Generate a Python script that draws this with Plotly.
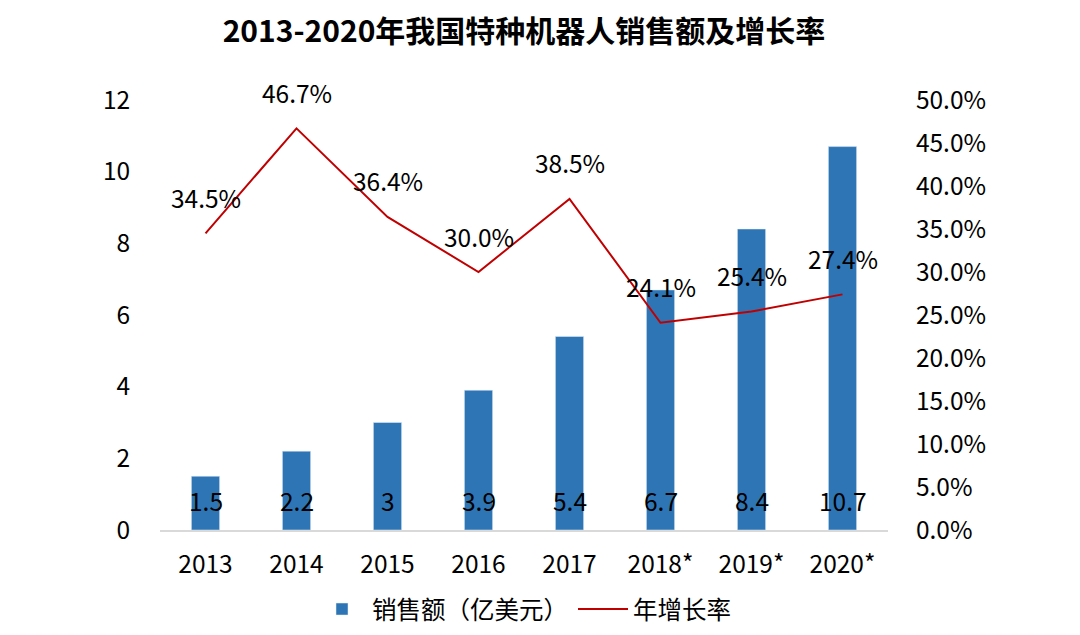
import plotly.graph_objects as go

years = ["2013", "2014", "2015", "2016", "2017", "2018*", "2019*", "2020*"]
sales = [1.5, 2.2, 3, 3.9, 5.4, 6.7, 8.4, 10.7]
sales_labels = ["1.5", "2.2", "3", "3.9", "5.4", "6.7", "8.4", "10.7"]
growth = [34.5, 46.7, 36.4, 30.0, 38.5, 24.1, 25.4, 27.4]
growth_labels = ["34.5%", "46.7%", "36.4%", "30.0%", "38.5%", "24.1%", "25.4%", "27.4%"]
left_ticks = [0, 2, 4, 6, 8, 10, 12]
right_ticks = [0, 5, 10, 15, 20, 25, 30, 35, 40, 45, 50]
right_tick_labels = ["%.1f%%" % v for v in right_ticks]

FONT = "Noto Sans CJK SC"
fs = 24.5
W, H = 1064, 619  # page body adds 8px margin on each side

fig = go.Figure()
fig.add_trace(go.Bar(
    x=years, y=sales, name="销售额（亿美元）",
    marker=dict(color="#2E75B6"), yaxis="y",
))
fig.add_trace(go.Scatter(
    x=years, y=growth, name="年增长率", mode="lines",
    line=dict(color="#C00000", width=2), yaxis="y2",
))

annotations = []
for i, (v, t) in enumerate(zip(sales, sales_labels)):
    annotations.append(dict(x=i, y=0, xref="x", yref="y", text=t, showarrow=False,
                            yshift=30, font=dict(family=FONT, size=fs, color="#000000")))
for i, (v, t) in enumerate(zip(growth, growth_labels)):
    annotations.append(dict(x=i, y=v, xref="x", yref="y2", text=t, showarrow=False,
                            yshift=36, font=dict(family=FONT, size=fs, color="#000000")))

fig.update_layout(
    width=W, height=H,
    paper_bgcolor="white", plot_bgcolor="white",
    margin=dict(l=152, r=184, t=92, b=97, autoexpand=False),
    font=dict(family=FONT, size=fs, color="#000000"),
    title=dict(text="<b>2013-2020年我国特种机器人销售额及增长率</b>", x=0.5, xref="paper",
               y=1 - 23 / H, yanchor="middle", font=dict(family=FONT, size=30, color="#000000")),
    bargap=0.69,
    xaxis=dict(type="category", range=[-0.5, len(years) - 0.5],
               showline=True, linecolor="#D9D9D9", linewidth=1.5, showgrid=False,
               ticks="outside", ticklen=12, tickcolor="rgba(0,0,0,0)",
               tickfont=dict(family=FONT, size=fs)),
    yaxis=dict(range=[0, 12], tickvals=left_ticks, showgrid=False, zeroline=False,
               showline=False, ticks="outside", ticklen=24, tickcolor="rgba(0,0,0,0)",
               tickfont=dict(family=FONT, size=fs)),
    yaxis2=dict(range=[0, 50], tickvals=right_ticks, ticktext=right_tick_labels,
                overlaying="y", side="right", showgrid=False, zeroline=False, showline=False,
                ticks="outside", ticklen=22, tickcolor="rgba(0,0,0,0)",
                tickfont=dict(family=FONT, size=fs)),
    legend=dict(orientation="h", x=0.5, xanchor="center", y=-0.184, yanchor="middle",
                font=dict(family=FONT, size=fs), itemwidth=50),
    annotations=annotations,
    showlegend=True,
)

fig.write_html("out.html")
